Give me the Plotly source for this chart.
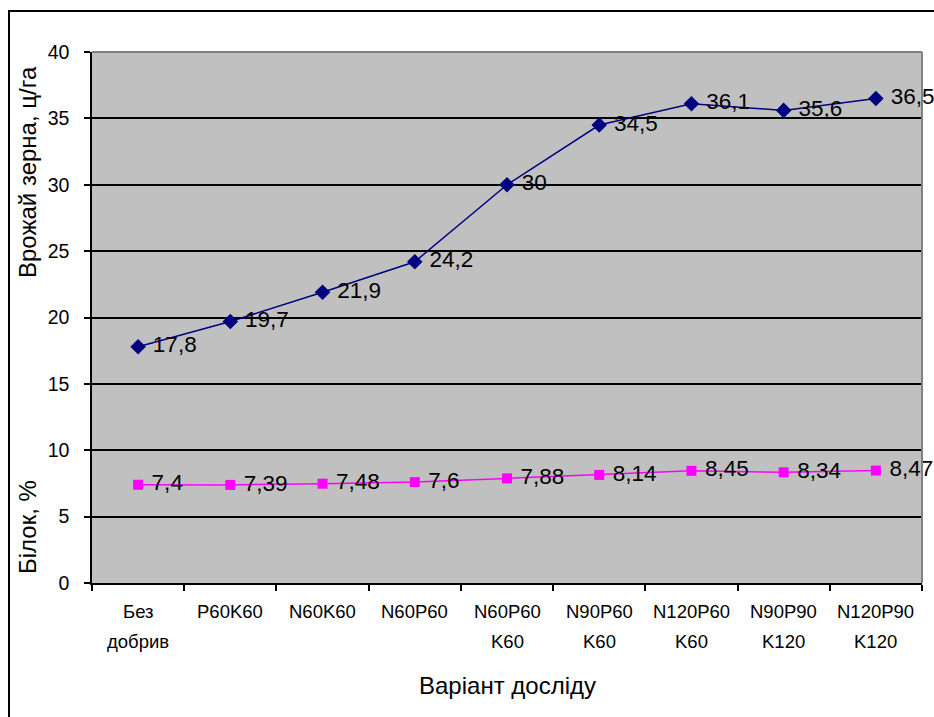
import plotly.graph_objects as go

# Experiment variants (category axis), label split into two lines
variant_line1 = ["Без", "P60K60", "N60K60", "N60P60", "N60P60",
                 "N90P60", "N120P60", "N90P90", "N120P90"]
variant_line2 = ["добрив", "", "", "", "K60", "K60", "K60", "K120", "K120"]
variants = [a + " " + b for a, b in zip(variant_line1, variant_line2)]

# Grain yield, c/ha
yield_vals = [17.8, 19.7, 21.9, 24.2, 30, 34.5, 36.1, 35.6, 36.5]
# Protein content, %
protein_vals = [7.4, 7.39, 7.48, 7.6, 7.88, 8.14, 8.45, 8.34, 8.47]

y_ticks = [0, 5, 10, 15, 20, 25, 30, 35, 40]


def fmt(v):
    return " " + f"{v:g}".replace(".", ",")


FONT = "Arial, Liberation Sans, sans-serif"

fig = go.Figure()
fig.add_trace(go.Scatter(
    x=variants, y=yield_vals, mode="lines+markers+text",
    text=[fmt(v) for v in yield_vals], textposition="middle right",
    textfont=dict(family=FONT, size=22.5, color="black"),
    line=dict(color="#000080", width=1.5),
    marker=dict(symbol="diamond", size=12, color="#000080"),
    cliponaxis=False, showlegend=False,
))
fig.add_trace(go.Scatter(
    x=variants, y=protein_vals, mode="lines+markers+text",
    text=[fmt(v) for v in protein_vals], textposition="middle right",
    textfont=dict(family=FONT, size=22.5, color="black"),
    line=dict(color="#FF00FF", width=1.5),
    marker=dict(symbol="square", size=10, color="#FF00FF"),
    cliponaxis=False, showlegend=False,
))

L, R, T, B = 92, 12, 52, 134
W, H = 934, 717
pw, ph = W - L - R, H - T - B

annotations = [
    dict(text="Врожай зерна, ц/га", textangle=-90, xref="paper", yref="paper",
         x=(27 - L) / pw, y=(ph + T - 172) / ph, showarrow=False,
         font=dict(size=24), xanchor="center", yanchor="middle"),
    dict(text="Білок, %", textangle=-90, xref="paper", yref="paper",
         x=(27 - L) / pw, y=(ph + T - 527) / ph, showarrow=False,
         font=dict(size=24), xanchor="center", yanchor="middle"),
    dict(text="Варіант досліду", xref="paper", yref="paper",
         x=0.5, y=-(685 - T - ph) / ph, showarrow=False,
         font=dict(size=24), xanchor="center", yanchor="middle"),
]
# category labels, two rows under the axis
for cat, l1, l2 in zip(variants, variant_line1, variant_line2):
    annotations.append(dict(text=l1, xref="x", yref="paper", x=cat,
                            y=-(611 - T - ph) / ph, showarrow=False,
                            font=dict(size=18.5), xanchor="center", yanchor="middle"))
    if l2:
        annotations.append(dict(text=l2, xref="x", yref="paper", x=cat,
                                y=-(641 - T - ph) / ph, showarrow=False,
                                font=dict(size=18.5), xanchor="center", yanchor="middle"))

fig.update_layout(
    width=W, height=H,
    margin=dict(l=L, r=R, t=T, b=B),
    paper_bgcolor="white", plot_bgcolor="#C0C0C0",
    font=dict(family=FONT, color="black"),
    xaxis=dict(
        type="category", range=[-0.5, 8.5], tickson="boundaries",
        ticks="outside", ticklen=6, tickcolor="black", tickwidth=1.5,
        showline=True, linecolor="black", linewidth=1.5,
        showgrid=False, showticklabels=False,
    ),
    yaxis=dict(
        range=[0, 40], tickvals=y_ticks,
        ticks="outside", ticklen=6, tickcolor="black", tickwidth=1.5,
        showline=True, linecolor="black", linewidth=1.5,
        showgrid=True, gridcolor="black", gridwidth=1.5,
        zeroline=False, tickfont=dict(size=19.5), ticklabelstandoff=11,
    ),
    shapes=[
        # grey plot-area edge on top and right
        dict(type="line", xref="paper", yref="paper", x0=0, x1=1, y0=1, y1=1,
             line=dict(color="#808080", width=2), layer="above"),
        dict(type="line", xref="paper", yref="paper", x0=1, x1=1, y0=0, y1=1,
             line=dict(color="#808080", width=2), layer="above"),
        # outer chart frame
        dict(type="rect", xref="paper", yref="paper",
             x0=(9 - L) / pw, x1=(W + 10 - L) / pw,
             y0=-(H + 10 - T - ph) / ph, y1=(ph + T - 11) / ph,
             line=dict(color="black", width=2), layer="below"),
    ],
    annotations=annotations,
)

fig.write_html("out.html")
